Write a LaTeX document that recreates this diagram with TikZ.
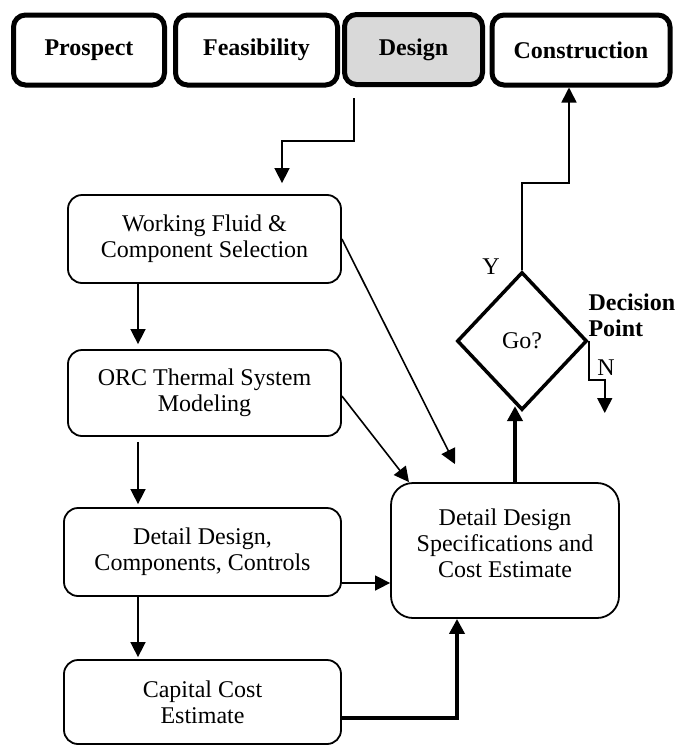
\documentclass[tikz,border=0pt]{standalone}
\usepackage{fontspec}
\setmainfont{Liberation Serif}
\usetikzlibrary{arrows.meta,shapes.geometric}
\tikzset{
  phase/.style={draw, line width=5pt, rounded corners=12pt, minimum height=70pt,
    inner sep=0pt, font=\fontsize{24}{26}\selectfont\bfseries},
  stepbox/.style={draw, line width=1.8pt, rounded corners=14pt, align=center, inner sep=0pt},
  decision/.style={draw, diamond, line width=3.5pt, minimum width=130pt,
    minimum height=138pt, inner sep=0pt},
  arr/.style={-{Triangle[length=15pt,width=15pt]}, line width=1.6pt},
  thickarr/.style={-{Triangle[length=15pt,width=15pt]}, line width=4pt},
}
\begin{document}
\begin{tikzpicture}[x=1pt, y=-1pt, font=\fontsize{24}{26}\selectfont]
    \useasboundingbox (0,0) rectangle (675,747);
    % project phases
    \node[phase, minimum width=151pt] (prospect) at (89,50) {Prospect};
    \node[phase, minimum width=162pt] (feasibility) at (256.5,50) {Feasibility};
    \node[phase, minimum width=138pt, fill=black!15] (design) at (413.5,49.5) {Design};
    \node[phase, minimum width=178pt] (construction) at (581,50) {Construction};
    % design steps
    \node[stepbox, minimum width=273pt, minimum height=88pt] (fluid) at (204.5,239)
        {Working Fluid \&\\Component Selection};
    \node[stepbox, minimum width=273pt, minimum height=86pt] (orc) at (204.5,393)
        {ORC Thermal System\\Modeling};
    \node[stepbox, minimum width=277pt, minimum height=88pt] (detail) at (202.5,552)
        {Detail Design,\\Components, Controls};
    \node[stepbox, minimum width=277pt, minimum height=84pt] (capital) at (202.5,702)
        {Capital Cost\\Estimate};
    \node[stepbox, rounded corners=22pt, minimum width=228pt, minimum height=135pt] (spec) at (505,550.5) {};
    \node[align=center] (spectext) at (505,543) {Detail Design\\Specifications and\\Cost Estimate};
    \node[decision] (go) at (522,341) {Go?};
    \node (yes) at (491,267) {Y};
    \node (no) at (606,368) {N};
    \node[anchor=west, align=left, font=\fontsize{24}{26}\selectfont\bfseries] (point) at (585,315)
        {Decision\\Point};
    % connectors
    \draw[arr] ([xshift=-59.5pt,yshift=-11pt]design.south) -- ++(0,43) -| ([xshift=77.5pt,yshift=11pt]fluid.north);
    \draw[arr] ([xshift=-66.5pt]fluid.south) -- ([xshift=-66.5pt,yshift=5pt]orc.north);
    \draw[arr] ([xshift=-66.5pt,yshift=-5pt]orc.south) -- ([xshift=-64.5pt,yshift=3pt]detail.north);
    \draw[arr] ([xshift=-64.5pt]detail.south) -- ([xshift=-64.5pt,yshift=2pt]capital.north);
    \draw[arr] ([yshift=-31pt]detail.east) -- ([yshift=-31pt]detail.east -| spec.west);
    \draw[thickarr] ([yshift=-16pt]capital.east) -| ([xshift=-48pt]spec.south);
    \draw[arr] (fluid.east) -- ([xshift=-50pt,yshift=18pt]spec.north);
    \draw[arr] ([yshift=-3pt]orc.east) -- ([xshift=-96pt]spec.north);
    \draw[thickarr] ([xshift=10pt]spec.north) -- ++(0,-76);
    \draw[arr] (go.north) -- ++(0,-87) -| ([xshift=-12pt]construction.south);
    \draw[arr] (go.east) -- ++(0,39) -- ++(16,0) -- ++(0,33);
\end{tikzpicture}
\end{document}
